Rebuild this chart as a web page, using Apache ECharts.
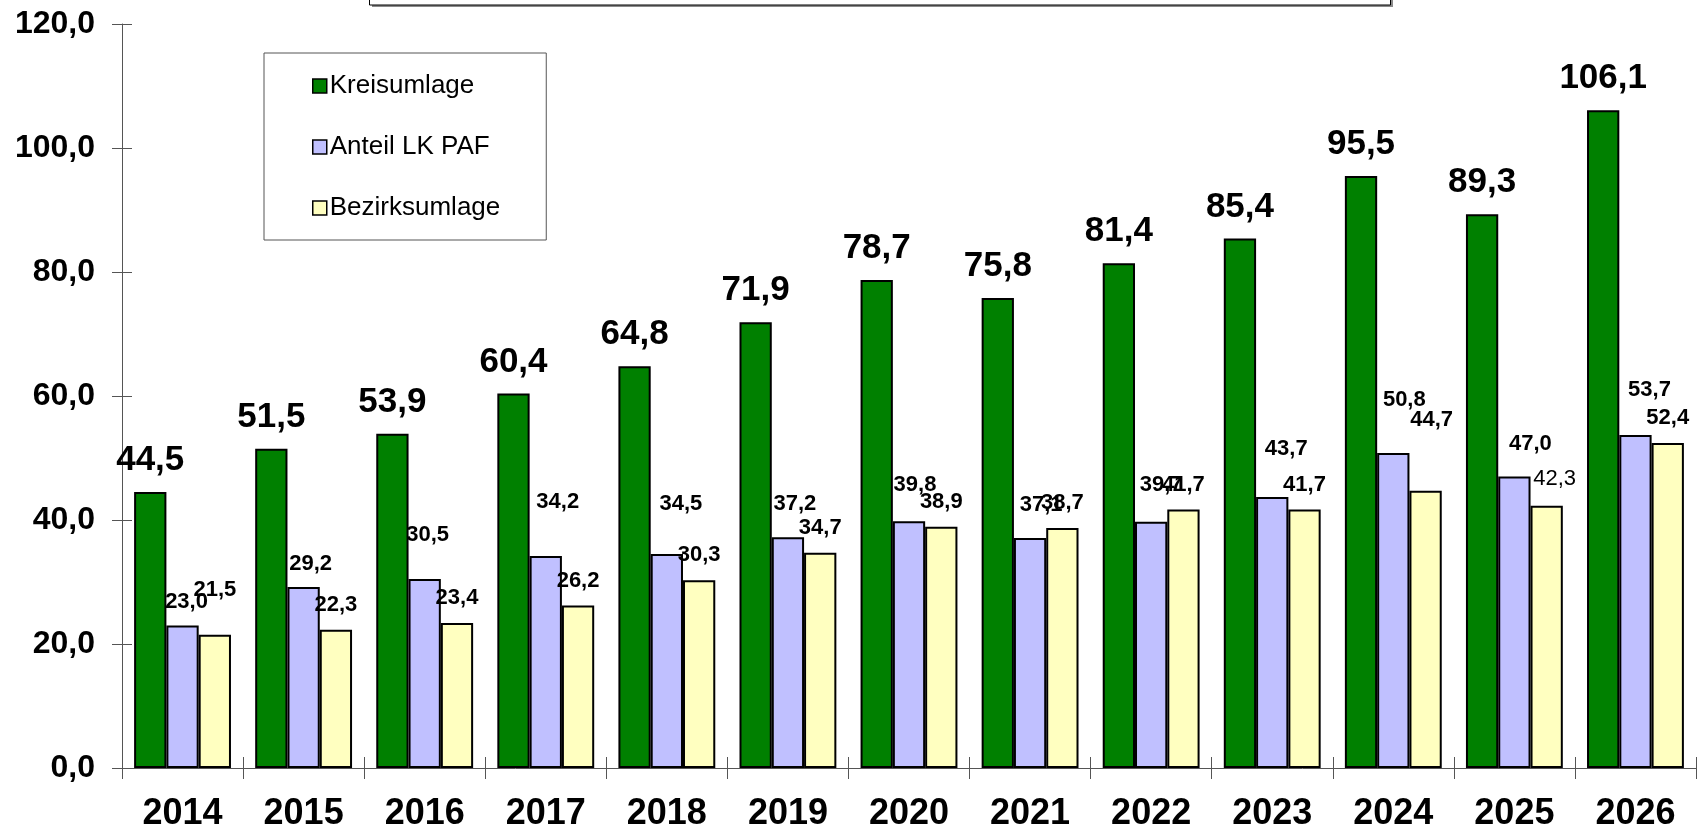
<!DOCTYPE html>
<html>
<head>
<meta charset="utf-8">
<title>Kreisumlage</title>
<script src="https://cdn.jsdelivr.net/npm/echarts@6/dist/echarts.min.js"></script>
<style>
html, body { margin: 0; padding: 0; background: #fff; overflow: hidden; }
#chart { width: 1701px; height: 832px; }
</style>
</head>
<body>
<div id="chart"></div>
<script>
// Werte in Mio. EUR
var years = ['2014', '2015', '2016', '2017', '2018', '2019', '2020', '2021', '2022', '2023', '2024', '2025', '2026'];
var kreisumlage = [44.5, 51.5, 53.9, 60.4, 64.8, 71.9, 78.7, 75.8, 81.4, 85.4, 95.5, 89.3, 106.1];
var anteilPaf = [23.0, 29.2, 30.5, 34.2, 34.5, 37.2, 39.8, 37.1, 39.7, 43.7, 50.8, 47.0, 53.7];
var bezirksumlage = [21.5, 22.3, 23.4, 26.2, 30.3, 34.7, 38.9, 38.7, 41.7, 41.7, 44.7, 42.3, 52.4];

var yMin = 0, yMax = 120, yStep = 20;

// im Original sind einige Beschriftungen von Hand verschoben -> [dx, dy]
var anteilShift = [[4, 0], [7, 0], [3, -21], [12, -31], [14, -27], [7, -10], [6, -13], [11, -10], [10, -14], [14, -25], [11, -30], [16, -10], [14, -22]];
var bezirkShift = [[0, -20], [0, 0], [0, 0], [0, 0], [0, 0], [0, 0], [0, 0], [0, 0], [0, 0], [0, 0], [6, -46], [8, -2], [0, 0]];

var FONT = 'Arial, "Liberation Sans", sans-serif';

function fmt(v) {
	return Number(v).toFixed(1).replace('.', ',');
}

function withShift(values, shifts, normalIdx) {
	return values.map(function(v, i) {
		var lbl = { offset: shifts[i] };
		if (normalIdx && normalIdx.indexOf(i) >= 0) lbl.fontWeight = 'normal';
		return { value: v, label: lbl };
	});
}

var chart = echarts.init(document.getElementById('chart'), null, { renderer: 'canvas' });

var smallLabel = {
	show: true,
	position: 'top',
	fontFamily: FONT,
	fontSize: 22,
	fontWeight: 'bold',
	color: '#000',
	formatter: function(p) { return fmt(p.value); }
};

var option = {
	backgroundColor: '#fff',
	animation: false,
	textStyle: { fontFamily: FONT },
	grid: { left: 122, right: 5, top: 24, bottom: 62 },
	legend: {
		orient: 'vertical',
		left: 264,
		top: 53,
		padding: [20, 46, 19, 48],
		itemGap: 35,
		itemWidth: 14,
		itemHeight: 14,
		borderColor: '#555',
		borderWidth: 1,
		backgroundColor: '#fff',
		icon: 'rect',
		textStyle: { fontFamily: FONT, fontSize: 26, color: '#000', padding: [0, 0, 0, -2] },
		itemStyle: { borderColor: '#000', borderWidth: 1.5 },
		data: ['Kreisumlage', 'Anteil LK PAF', 'Bezirksumlage']
	},
	graphic: [
		// abgeschnittener Titelrahmen am oberen Rand
		{ type: 'rect', shape: { x: 372, y: -20, width: 1021, height: 27 }, style: { fill: '#8a8a8a' }, silent: true },
		{ type: 'rect', shape: { x: 369.5, y: -20, width: 1021, height: 25 }, style: { fill: '#fff', stroke: '#000', lineWidth: 1 }, silent: true }
	],
	xAxis: [{
		type: 'category',
		data: years,
		axisLine: { lineStyle: { color: '#555', width: 1 } },
		axisTick: { show: true, length: 11, lineStyle: { color: '#555' } },
		axisLabel: { margin: 28, fontFamily: FONT, fontSize: 36, fontWeight: 'bold', color: '#000' },
		splitLine: { show: false }
	}, {
		type: 'category',
		data: years,
		position: 'bottom',
		axisLine: { show: false },
		axisTick: { show: true, inside: true, length: 11, lineStyle: { color: '#555' } },
		axisLabel: { show: false },
		splitLine: { show: false }
	}],
	yAxis: [{
		type: 'value',
		min: yMin,
		max: yMax,
		interval: yStep,
		axisLine: { show: true, lineStyle: { color: '#555', width: 1 } },
		axisTick: { show: true, length: 10, lineStyle: { color: '#555' } },
		axisLabel: {
			margin: 27, fontFamily: FONT, fontSize: 32, fontWeight: 'bold', color: '#000',
			formatter: function(v) { return fmt(v); }
		},
		splitLine: { show: false }
	}, {
		type: 'value',
		min: yMin,
		max: yMax,
		interval: yStep,
		position: 'left',
		axisLine: { show: false },
		axisTick: { show: true, inside: true, length: 10, lineStyle: { color: '#555' } },
		axisLabel: { show: false },
		splitLine: { show: false }
	}],
	series: [{
		name: 'Kreisumlage',
		type: 'bar',
		barGap: '0%',
		barCategoryGap: '20%',
		data: kreisumlage,
		itemStyle: { color: '#008000', borderColor: '#000', borderWidth: 2 },
		label: {
			show: true,
			position: 'top',
			distance: 14,
			fontFamily: FONT,
			fontSize: 35,
			fontWeight: 'bold',
			color: '#000',
			formatter: function(p) { return fmt(p.value); }
		}
	}, {
		name: 'Anteil LK PAF',
		type: 'bar',
		barGap: '0%',
		barCategoryGap: '20%',
		data: withShift(anteilPaf, anteilShift),
		itemStyle: { color: '#C0C0FF', borderColor: '#000', borderWidth: 2 },
		label: Object.assign({}, smallLabel, { distance: 12 })
	}, {
		name: 'Bezirksumlage',
		type: 'bar',
		barGap: '0%',
		barCategoryGap: '20%',
		data: withShift(bezirksumlage, bezirkShift, [11]),
		itemStyle: { color: '#FFFFC0', borderColor: '#000', borderWidth: 2 },
		label: Object.assign({}, smallLabel, { distance: 14 })
	}]
};

chart.setOption(option);
</script>
</body>
</html>
